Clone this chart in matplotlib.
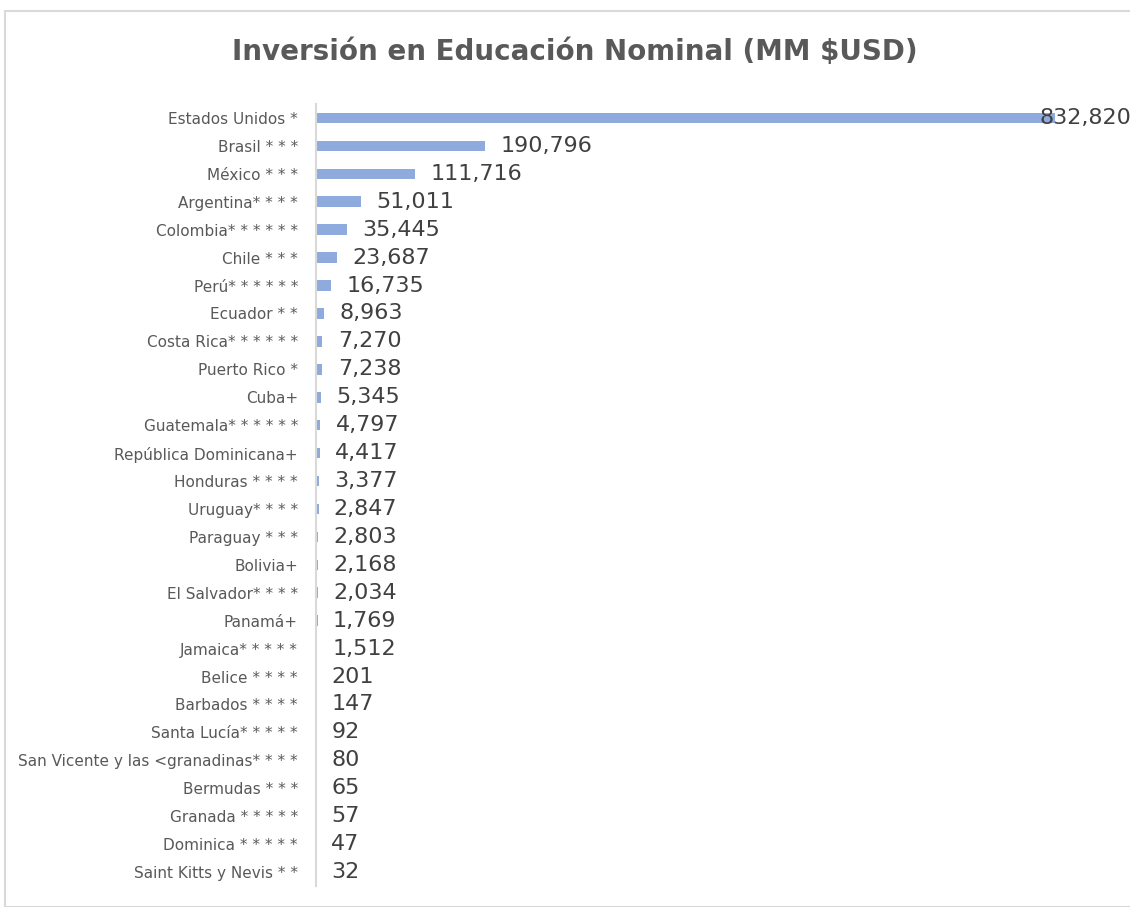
import matplotlib
matplotlib.use("Agg")
import matplotlib.pyplot as plt
from matplotlib.patches import Rectangle

countries = [
    "Estados Unidos *", "Brasil * * *", "México * * *", "Argentina* * * *",
    "Colombia* * * * * *", "Chile * * *", "Perú* * * * * *", "Ecuador * *",
    "Costa Rica* * * * * *", "Puerto Rico *", "Cuba+", "Guatemala* * * * * *",
    "República Dominicana+", "Honduras * * * *", "Uruguay* * * *", "Paraguay * * *",
    "Bolivia+", "El Salvador* * * *", "Panamá+", "Jamaica* * * * *",
    "Belice * * * *", "Barbados * * * *", "Santa Lucía* * * * *",
    "San Vicente y las <granadinas* * * *", "Bermudas * * *", "Granada * * * * *",
    "Dominica * * * * *", "Saint Kitts y Nevis * *",
]
values = [
    832820, 190796, 111716, 51011, 35445, 23687, 16735, 8963, 7270, 7238,
    5345, 4797, 4417, 3377, 2847, 2803, 2168, 2034, 1769, 1512,
    201, 147, 92, 80, 65, 57, 47, 32,
]
title = "Inversión en Educación Nominal (MM $USD)"

W, H = 1130, 907
fig = plt.figure(figsize=(W / 100, H / 100), dpi=100)

# outer chart frame
fig.patches.append(Rectangle((5 / W, 0), 1.2, (H - 11) / H, transform=fig.transFigure,
                             fill=False, edgecolor="#d9d9d9", linewidth=1.5))

ax_left, ax_right = 316, 1055
ax_top, ax_bottom = 104, 886
ax = fig.add_axes([ax_left / W, (H - ax_bottom) / H,
                   (ax_right - ax_left) / W, (ax_bottom - ax_top) / H])

y = list(range(len(countries)))
ax.barh(y, values, height=0.38, color="#8faadc")
ax.set_ylim(len(countries) - 0.5, -0.5)
ax.set_xlim(0, max(values))
ax.set_yticks(y)
ax.set_yticklabels(countries, fontsize=11, color="#595959", family="DejaVu Sans")
ax.tick_params(axis="y", length=0, pad=13)
ax.set_xticks([])
for s in ["top", "right", "bottom"]:
    ax.spines[s].set_visible(False)
ax.spines["left"].set_color("#d9d9d9")
ax.spines["left"].set_linewidth(1.5)

vmax = max(values)
for yi, v in zip(y, values):
    off = -11 if v == vmax else 11
    ax.annotate(f"{v:,}", xy=(v, yi), xytext=(off, 0), textcoords="offset points",
                va="center", ha="left", fontsize=16, color="#404040",
                annotation_clip=False)

fig.text(575 / W, 1 - 52 / H, title, ha="center", va="center",
         fontsize=20, fontweight="bold", color="#595959", family="DejaVu Sans")

fig.savefig("out.png", dpi=100)
